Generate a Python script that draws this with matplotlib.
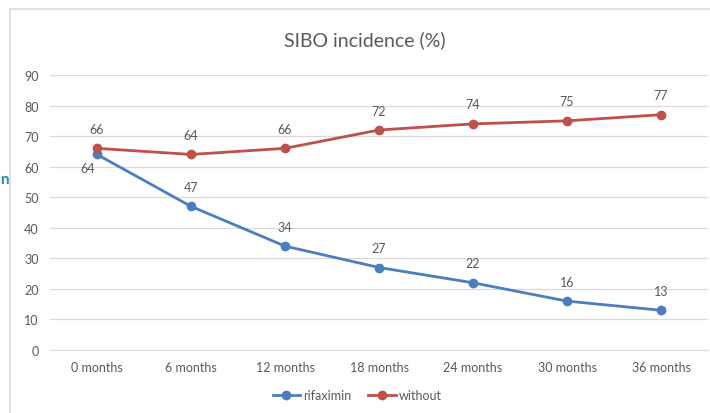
import numpy as np
import matplotlib
matplotlib.use('Agg')
import matplotlib.pyplot as plt
from matplotlib.patches import Rectangle

#%% Datos
meses = ['0 months', '6 months', '12 months', '18 months', '24 months', '30 months', '36 months']
rifaximin = [64, 47, 34, 27, 22, 16, 13]
without = [66, 64, 66, 72, 74, 75, 77]

plt.rcParams['font.family'] = ['Lato', 'DejaVu Sans']
c_blue = '#4A7EC0'
c_red = '#C0504D'
c_txt = '#595959'

#%% Figura
fig = plt.figure(figsize=(7.1, 4.14), dpi=100)
ax = fig.add_axes([50/710, 63/414, 658/710, 275/414])

# marco del grafico
fig.patches.append(Rectangle((10/710, -0.1), 1.0, 1.0 + 0.1 - 10/414, transform=fig.transFigure,
                             fill=False, ec='#D9D9D9', lw=1.2))
fig.text(0.0, 1 - 180/414, 'n', color='#1F8FA8', fontsize=11, fontweight='bold', va='center', ha='left')

x = np.arange(len(meses))
ax.plot(x, rifaximin, '-o', color=c_blue, lw=2.0, ms=6, label='rifaximin', zorder=3)
ax.plot(x, without, '-o', color=c_red, lw=2.0, ms=6, label='without', zorder=3)

for i, v in enumerate(rifaximin):
    if i == 0:
        ax.annotate(f'{v}', (x[i], v), xytext=(-7, -10), textcoords='offset points',
                    ha='center', va='center', fontsize=9, color=c_txt)
    else:
        ax.annotate(f'{v}', (x[i], v), xytext=(0, 14), textcoords='offset points',
                    ha='center', va='center', fontsize=9, color=c_txt)
for i, v in enumerate(without):
    ax.annotate(f'{v}', (x[i], v), xytext=(0, 14), textcoords='offset points',
                ha='center', va='center', fontsize=9, color=c_txt)

ax.set_xlim(-0.5, len(meses) - 0.5)
ax.set_ylim(0, 90)
ax.set_yticks(range(0, 91, 10))
ax.set_xticks(x)
ax.set_xticklabels(meses)
ax.grid(axis='y', color='#D9D9D9', lw=0.9)
ax.set_axisbelow(True)
for s in ['top', 'right', 'left']:
    ax.spines[s].set_visible(False)
ax.spines['bottom'].set_color('#D9D9D9')
ax.tick_params(axis='both', length=0, labelsize=9, colors=c_txt)
ax.tick_params(axis='y', pad=8)
ax.tick_params(axis='x', pad=8)

fig.text(365/710, 374/414, 'SIBO incidence (%)', ha='center', va='center', fontsize=14, color=c_txt)
ax.legend(loc='center', bbox_to_anchor=(357/710, 18/414), bbox_transform=fig.transFigure, ncol=2,
          frameon=False, fontsize=9, labelcolor=c_txt, handlelength=2.2, columnspacing=1.4, handletextpad=0.2)

fig.savefig('out.png', dpi=100)
